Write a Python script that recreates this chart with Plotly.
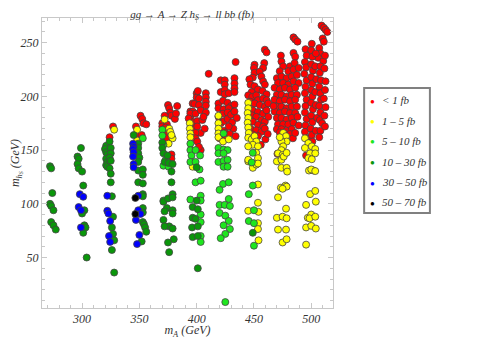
import plotly.graph_objects as go

# (m_A, m_hS) points, one list per cross-section bin
red_pts = [
    (327, 172), (324, 162),
    (351, 182), (352.5, 179), (353.5, 175), (356, 174), (347, 172), (348, 164), (352, 164),
    (375, 192), (376, 189), (377, 185), (378, 182), (381, 179), (383, 191), (382, 184), (372, 182),
    (370, 175), (370, 172), (374, 174), (373, 171), (373, 167), (375, 165), (374, 161), (378, 146), (378, 142),
    (410.5, 221), (400, 203), (400, 199), (401, 205), (402, 198), (408, 203), (408, 199), (408, 195),
    (396.5, 193.5), (398, 193), (402, 192), (408, 191.5), (394.5, 186), (396.5, 186), (395, 182), (394.5, 184),
    (399, 184), (403.5, 187), (408, 185), (393, 179.5), (397, 176), (400.5, 177), (405, 178), (397, 170),
    (400.5, 172), (403.5, 166), (399, 166), (399, 161), (400.5, 158), (403.5, 150), (402, 153), (406, 181), (407, 170),
    (434, 232), (421, 215), (424.5, 215), (424.5, 211), (421, 204), (424.5, 206), (424.5, 202), (433, 217),
    (433, 212), (433, 207.5), (428, 203), (433, 204), (419, 193.5), (423, 196), (427, 194), (430, 191),
    (433, 192.5), (419, 189), (423.5, 188), (428, 189), (419, 181), (423, 184), (427, 185), (421, 175),
    (424, 177), (427, 179), (432, 170), (423.5, 168), (425, 166), (420, 161), (426, 161), (430, 183),
    (431, 176), (428, 172), (433, 186), (435, 180), (429, 165), (434, 163),
    (459.5, 243.5), (461, 241), (459, 231), (458, 226.5), (450.5, 229.5), (450, 226.5), (450.5, 222), (449, 217.5),
    (446, 216), (455, 223), (456.5, 218.5), (458, 214), (459.5, 211), (447, 211), (450.5, 209.5), (453.5, 206.5),
    (457.5, 205), (461, 202), (448, 204), (445, 201), (448.5, 199.5), (452, 201), (453.5, 196.5), (458, 198),
    (461, 196.5), (447, 195), (450.5, 193.5), (455, 192), (459.5, 190.5), (462.5, 193.5), (446, 188.5),
    (449, 187), (453.5, 185.5), (458, 184), (461, 187), (448, 182.5), (452, 181), (456.5, 178), (459.5, 176.5),
    (449, 176.5), (453.5, 173.5), (458, 172), (462.5, 181), (447, 170), (452, 168.5), (456.5, 167), (459.5, 170),
    (449, 164.5), (453.5, 163), (460, 160), (456, 155), (462, 165),
    (484.5, 255), (486, 253), (488, 251), (473.5, 238), (484.5, 240.5), (486, 237), (474, 232.5), (475.5, 228),
    (481.5, 228), (485.5, 231), (472.5, 223.5), (480, 223.5), (484.5, 225), (489, 226.5), (470, 217), (474, 218.5),
    (478.5, 217), (483, 218.5), (487.5, 220), (471, 212.5), (475.5, 212.5), (480, 211), (484.5, 214), (489, 212.5),
    (468, 208), (472.5, 206.5), (477, 208), (481.5, 206.5), (486, 208), (470, 201.5), (474, 201.5), (478.5, 200),
    (483, 201.5), (487.5, 201.5), (468, 197), (472.5, 195.5), (477, 197), (481.5, 195.5), (486, 197), (470, 190.5),
    (474, 190.5), (478.5, 189), (483, 190.5), (487.5, 190.5), (468, 186), (472.5, 184.5), (477, 186), (481.5, 184.5),
    (486, 184.5), (470, 180), (474, 180), (478.5, 178.5), (483, 180), (471, 174), (475.5, 174), (480, 174),
    (484.5, 175.5), (470, 169.5), (474, 169.5), (478.5, 168), (483, 169.5), (472.5, 166.5), (477, 165),
    (481.5, 165), (489, 173), (470.5, 146.5), (484, 161), (486, 166), (467, 191), (488, 181),
    (509, 266), (511, 264), (512.5, 262), (514, 260), (510, 254), (511, 251), (507, 245), (508, 240), (506, 236),
    (510.5, 233), (495, 244), (496, 238), (494.5, 232), (495.5, 227), (494, 221), (496, 215), (495, 209),
    (494.5, 203), (496, 197), (495, 191), (494.5, 185), (496, 179), (495, 173), (494.5, 167), (496, 161),
    (495.5, 145), (500.5, 249), (500, 243), (501, 237), (500, 230), (501.5, 224), (500, 218), (501, 212),
    (500, 206), (501, 200), (500, 194), (501.5, 188), (500, 182), (501, 176), (499.5, 170), (500.5, 164),
    (501, 158), (504, 240), (503.5, 228), (504.5, 216), (503.5, 204), (504, 192), (505, 180), (504, 168),
    (508, 228), (507.5, 222), (508.5, 215), (507, 209), (508, 203), (508.5, 197), (507, 191), (508, 185),
    (507.5, 178), (509.5, 175), (508, 168), (507, 162), (512, 238), (511.5, 226), (512.5, 214), (512, 206),
    (511, 198), (512.5, 190), (511.5, 182), (512, 172),
]

yellow_pts = [
    (328, 169), (348, 169), (348, 159),
    (372, 178.5), (376, 170), (377, 167), (379, 161), (375.5, 156), (378, 164),
    (394, 175), (394, 170), (394.5, 165.5), (394.5, 162), (396.5, 134.5),
    (419, 182), (419, 175), (419, 170), (419, 165.5), (419, 162), (423, 158), (428, 160),
    (445, 194), (445, 189), (444.5, 184.5), (445, 180), (444.5, 175.5), (445, 171), (445.5, 166), (445, 161.5),
    (448, 160), (450.5, 163), (452, 158), (449, 155), (453.5, 153.5), (445, 153.5), (445, 139.5), (452, 147.5),
    (453.5, 142.5), (449, 133.5), (452, 136.5), (453.5, 137.5), (445, 141), (453.5, 118), (453.5, 101),
    (445, 93.5), (454, 92.5), (453.5, 82), (453.5, 76.5), (454, 66),
    (475.5, 166), (478, 163), (478.5, 158), (474, 158), (475.5, 153.5), (474, 150), (471, 147), (475, 145.5),
    (470, 139.5), (474, 141), (474, 133.5), (478.5, 133.5), (473.5, 115), (477.5, 117), (476, 144),
    (478.5, 147.5), (472.5, 162), (479, 130), (478.5, 116), (475, 114), (471, 106), (478, 95.5), (470, 87),
    (475, 88), (478.5, 86.5), (471, 76), (478, 76), (475, 64), (478.5, 67),
    (499, 109), (503.5, 112), (495.5, 99), (504, 102), (497, 87), (500, 90), (498.5, 86.5), (503.5, 88),
    (495.5, 78), (500, 79.5), (504, 77), (495.5, 62), (498, 131), (502, 131), (494.5, 161), (497.5, 156.5),
    (500.5, 153.5), (503.5, 151), (494.5, 152), (499, 147), (503.5, 147), (497.5, 142.5), (500.5, 141.5),
    (500, 132), (503.5, 130.5),
]

ltgreen_pts = [
    (353, 161),
    (370, 169), (370, 163.5), (371, 155), (373, 141), (371, 135.5), (375.5, 134.5), (371, 103),
    (394.5, 156), (394.5, 150), (395.5, 145), (394.5, 139), (399, 139), (399, 150), (403, 145), (402.5, 132),
    (399, 120), (403.5, 121.5), (403.5, 107.5), (394.5, 104), (403.5, 103), (403.5, 90), (403.5, 83),
    (403.5, 70), (403.5, 64.5),
    (423.5, 165.5), (419, 152), (423.5, 150.5), (427, 150), (419, 147), (423.5, 147), (419, 139), (423.5, 140),
    (427, 141), (423.5, 134.5), (427, 134.5), (423, 118.5), (428, 120), (420, 113), (428, 104.5), (420, 99),
    (424.5, 99), (429, 98), (420, 91.5), (425, 89), (428, 84), (423.5, 80), (429, 76.5), (425, 72), (421, 68),
    (425, 8.5),
    (448, 138.5), (449, 147.5), (449, 117), (445.5, 109), (450, 94), (445.5, 84), (450, 82), (450, 61),
]

dkgreen_pts = [
    (272, 135), (273, 133), (274, 110), (272, 100), (273, 98), (275, 94), (273, 83), (275, 80), (277, 76),
    (296, 144), (297, 142), (296, 137), (297, 133), (300, 130), (299, 152), (301, 117), (302, 94), (300, 91),
    (302, 80), (303, 78), (301, 73), (304, 50),
    (321, 154), (320, 151), (321, 148), (322, 146), (321, 142), (322, 139), (321, 136), (322, 134.5),
    (324, 133), (325, 128), (324, 158), (325, 152), (325, 147), (324, 143), (325, 140), (325, 120),
    (326, 107), (327, 88), (326, 78), (327, 72), (328, 66), (326, 57), (328, 36),
    (345, 164), (349, 156), (349, 152), (349, 147), (350, 143), (349, 139), (349, 131), (353, 132),
    (353, 127), (349, 120), (353, 119), (353, 109), (353, 107), (353, 96), (353, 92), (353, 83), (354, 81),
    (355, 78), (356, 74), (352, 65),
    (370, 157), (370, 152), (371, 147), (374.5, 145), (372, 139), (375.5, 138), (379, 137), (378, 130),
    (371, 102), (375, 105), (379, 109), (379, 106), (378, 120), (374, 96), (372, 93), (371, 85), (379, 94),
    (379, 91), (376, 79), (379, 77), (372, 79), (380, 67), (375, 64), (376, 55),
    (400, 134), (400, 103), (396.5, 97), (401, 95), (396.5, 87), (399, 86), (396, 78), (401, 79),
    (396.5, 69), (401, 70), (401, 40),
    (449, 73),
]

blue_pts = [
    (298, 109), (301, 106.5), (297, 97), (299, 94), (299, 78),
    (322, 107.5), (322, 93.5), (323, 91), (324.5, 84), (323.5, 70), (324.5, 64.5),
    (344.5, 156), (345, 153), (344.5, 151), (345, 148), (344.5, 144), (345, 137), (345, 134),
    (349, 107.5), (349, 94), (351, 90.5), (347, 85), (350, 71), (348, 62.5),
]

black_pts = [(346.5, 105.5), (346.5, 90.5)]

bins = [
    ("< 1 fb", "#ff0000", red_pts),
    ("1 \u2013 5 fb", "#ffff00", yellow_pts),
    ("5 \u2013 10 fb", "#1ee61e", ltgreen_pts),
    ("10 \u2013 30 fb", "#0a960a", dkgreen_pts),
    ("30 \u2013 50 fb", "#0000ff", blue_pts),
    ("50 \u2013 70 fb", "#000000", black_pts),
]

serif = "Liberation Serif"
txt = "#333333"

fig = go.Figure()
for name, col, pts in bins:
    fig.add_trace(go.Scatter(
        x=[p[0] for p in pts], y=[p[1] for p in pts],
        mode="markers", showlegend=False, name=name,
        marker=dict(size=7, color=col, line=dict(color="#444444", width=0.8)),
    ))

# legend drawn by hand (a narrow framed box like the reference)
fig.add_shape(type="rect", xref="paper", yref="paper", x0=1.107, x1=1.333, y0=0.328, y1=0.759,
              line=dict(color="#808080", width=2), fillcolor="white")
leg_y = [0.717, 0.646, 0.576, 0.505, 0.434, 0.364]
for (name, col, pts), yy in zip(bins, leg_y):
    fig.add_annotation(x=1.137, y=yy, xref="paper", yref="paper", text="\u25cf", showarrow=False,
                       font=dict(size=8, color=col), xanchor="center", yanchor="middle")
    fig.add_annotation(x=1.163, y=yy, xref="paper", yref="paper", text=name, showarrow=False,
                       font=dict(family=serif, size=11, color=txt, style="italic"),
                       xanchor="left", yanchor="middle")

axis_style = dict(
    showline=True, linecolor="#c8c8c8", linewidth=1, mirror="ticks", automargin=False,
    ticks="inside", ticklen=5, tickcolor="#c8c8c8", showgrid=False, zeroline=False,
    tickfont=dict(family=serif, size=12, color=txt, style="italic"),
    minor=dict(ticks="inside", ticklen=3, tickcolor="#c8c8c8", dtick=10),
)

fig.update_xaxes(range=[265, 519], tick0=300, dtick=50,
                 title=dict(text="m<sub>A</sub> (GeV)", standoff=6,
                            font=dict(family=serif, size=12, color=txt, style="italic")),
                 **axis_style)
fig.update_yaxes(range=[3, 273], tick0=50, dtick=50,
                 title=dict(text="m<sub>h<sub>S</sub></sub> (GeV)", standoff=1,
                            font=dict(family=serif, size=12, color=txt, style="italic")),
                 **axis_style)

# the page body adds an 8px offset, so the figure is 8px smaller than the window
fig.update_layout(
    width=477, height=331,
    margin=dict(l=34, r=152, t=10, b=31),
    paper_bgcolor="white", plot_bgcolor="white",
    showlegend=False,
    title=dict(text="gg \u2192 A \u2192 Z h<sub>S</sub> \u2192 ll bb (fb)", x=0.386, xanchor="center",
               xref="container", y=0.994, yanchor="top", yref="container", pad=dict(t=0, b=0),
               font=dict(family=serif, size=11, color=txt, style="italic")),
)

fig.write_html("out.html")
